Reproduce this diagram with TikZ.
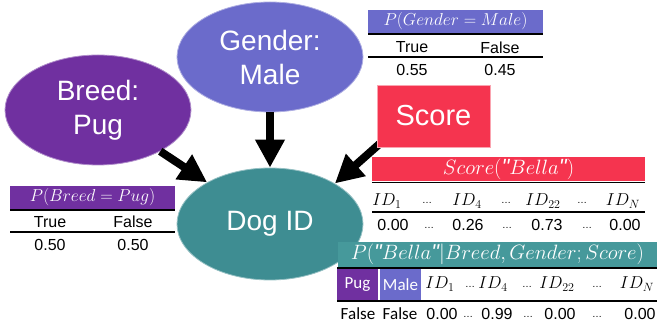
\documentclass[tikz,border=0pt]{standalone}
\usepackage{fontspec}
\setmainfont{Liberation Sans}
\newfontfamily\calfont{Carlito}
\newfontfamily\qfont[Ligatures=TeXOff]{Liberation Sans}
\newcommand{\sq}{\textit{\qfont\itshape "}}
\usetikzlibrary{shapes.geometric,arrows.meta,backgrounds}
\definecolor{breedc}{HTML}{7030A0}
\definecolor{genderc}{HTML}{6B6BCB}
\definecolor{dogc}{HTML}{3E8D92}
\definecolor{scorec}{HTML}{F5344F}
\definecolor{tealh}{HTML}{46999B}
\begin{document}
\begin{tikzpicture}[x=1pt,y=-1pt,
  ell/.style={ellipse, minimum width=186pt, minimum height=110pt, inner sep=0pt,
    text=white, font=\fontsize{28}{34}\selectfont, align=center, line width=0.8pt},
  bigarrow/.style={-{Triangle[length=28pt,width=28pt]}, line width=8pt},
  hbar/.style={inner sep=0pt, text=white, font=\fontsize{19}{22}\selectfont},
  cell/.style={inner sep=0pt, font=\fontsize{16}{18}\selectfont},
  idcell/.style={inner sep=0pt, font=\fontsize{17}{19}\selectfont},
  dots/.style={inner sep=0pt, font=\fontsize{10}{12}\selectfont},
  cal/.style={inner sep=0pt, font=\calfont\fontsize{17}{19}\selectfont},
  tabrule/.style={line width=1.3pt}]
\useasboundingbox (0,0) rectangle (657,328);

% ellipses and score box
\node[ell, fill=breedc, draw=breedc!55!white] (breed) at (98,110) {Breed:\\Pug};
\node[ell, fill=genderc, draw=genderc!55!white] (gender) at (270,57) {Gender:\\Male};
\node[ell, fill=dogc, draw=dogc!55!white, minimum height=112pt] (dog) at (270,224) {Dog ID};
\node[rectangle, fill=scorec, draw=scorec!45!white, line width=0.8pt,
      minimum width=113pt, minimum height=62pt, inner sep=0pt, text=white,
      font=\fontsize{29}{34}\selectfont] (score) at (433.5,116) {Score};

% arrows
\draw[bigarrow] (breed) -- (dog);
\draw[bigarrow] (gender) -- (dog);
\coordinate (sa) at ([shift={(8,-8)}]score.south west);
\begin{pgfonlayer}{background}
\draw[bigarrow] (sa) -- (dog.32);
\end{pgfonlayer}

% Gender table
\node[hbar, fill=genderc, minimum width=175pt, minimum height=23pt] (gh) at (455.5,21.5) {$P(Gender=Male)$};
\draw[tabrule] (368,34) -- (543,34);
\draw[tabrule] (368,57) -- (543,57);
\node[cell] (gt) at (412,47.5) {True};
\node[cell] (gf) at (500,47.5) {False};
\node[cell] (gv1) at (412,70) {0.55};
\node[cell] (gv2) at (500,70) {0.45};

% Breed table
\node[hbar, fill=breedc, minimum width=165pt, minimum height=23pt] (bh) at (92.5,197.5) {$P(Breed=Pug)$};
\draw[tabrule] (10,210) -- (175,210);
\draw[tabrule] (10,232) -- (175,232);
\node[cell] (bt) at (50,222) {True};
\node[cell] (bf) at (133,222) {False};
\node[cell] (bv1) at (50,245) {0.50};
\node[cell] (bv2) at (133,245) {0.50};

% Score table
\node[hbar, fill=scorec, minimum width=273pt, minimum height=24pt,
      font=\fontsize{22}{24}\selectfont] (sh) at (508.5,169) {$Score(\sq Bella\sq)$};
\draw[tabrule] (372,182.5) -- (645,182.5);
\draw[tabrule] (372,212) -- (645,212);
\node[idcell] (s1) at (387,201) {$ID_1$};
\node[dots] (sd1) at (427,203) {\ldots};
\node[idcell] (s4) at (467,201) {$ID_4$};
\node[dots] (sd2) at (506,203) {\ldots};
\node[idcell] (s22) at (543,201) {$ID_{22}$};
\node[dots] (sd3) at (582,203) {\ldots};
\node[idcell] (sN) at (623,201) {$ID_N$};
\node[cell] (sv1) at (393,225) {0.00};
\node[dots] (svd1) at (429,228) {\ldots};
\node[cell] (sv4) at (468,225) {0.26};
\node[dots] (svd2) at (507,228) {\ldots};
\node[cell] (sv22) at (547,225) {0.73};
\node[dots] (svd3) at (587,228) {\ldots};
\node[cell] (svN) at (625,225) {0.00};

% Bella table
\node[hbar, fill=tealh, minimum width=319pt, minimum height=25pt,
      font=\fontsize{21.5}{24}\selectfont] (ph) at (497.5,254.5) {$P(\sq Bella\sq|Breed,Gender;Score)$};
\draw[tabrule] (337,268) -- (657,268);
\node[cal, fill=breedc, text=white, minimum width=41pt, minimum height=31pt] (pug) at (357.5,284.5) {Pug};
\node[cal, fill=genderc, text=white, minimum width=41pt, minimum height=31pt] (male) at (400.5,284.5) {Male};
\draw[tabrule] (337,301) -- (657,301);
\node[idcell] (p1) at (440,284) {$ID_1$};
\node[dots] (pd1) at (470,287) {\ldots};
\node[idcell] (p4) at (493,284) {$ID_4$};
\node[dots] (pd2) at (527,287) {\ldots};
\node[idcell] (p22) at (557,284) {$ID_{22}$};
\node[dots] (pd3) at (597,287) {\ldots};
\node[idcell] (pN) at (637,284) {$ID_N$};
\node[cal] (pf1) at (358,314) {False};
\node[cal] (pf2) at (400,314) {False};
\node[cell] (pv1) at (442,314) {0.00};
\node[dots] (pvd1) at (468,317) {\ldots};
\node[cell] (pv4) at (497,314) {0.99};
\node[dots] (pvd2) at (528,317) {\ldots};
\node[cell] (pv22) at (560,314) {0.00};
\node[dots] (pvd3) at (597,317) {\ldots};
\node[cell] (pvN) at (640,314) {0.00};
\end{tikzpicture}
\end{document}
